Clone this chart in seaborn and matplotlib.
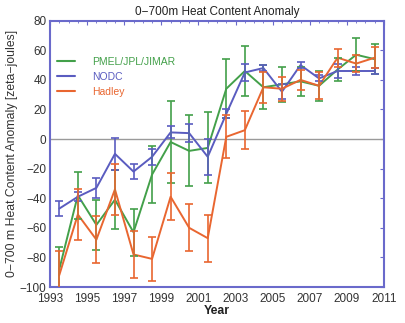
import matplotlib
matplotlib.use("Agg")
import matplotlib.pyplot as plt
import seaborn as sns
import pandas as pd
import numpy as np
from matplotlib.ticker import MultipleLocator
from matplotlib.lines import Line2D

years = [1993.5, 1994.5, 1995.5, 1996.5, 1997.5, 1998.5, 1999.5, 2000.5, 2001.5,
         2002.5, 2003.5, 2004.5, 2005.5, 2006.5, 2007.5, 2008.5, 2009.5, 2010.5]

pmel = [-88, -38, -58, -41, -63, -24, -2, -8, -6, 34, 46, 35, 37, 39, 36, 47, 57, 54]
pmel_err = [15, 16, 17, 20, 16, 19, 28, 24, 24, 20, 17, 15, 12, 10, 10, 8, 11, 10]

nodc = [-47, -39, -33, -10, -22, -12, 4.5, 4, -12, 17, 45, 48, 32, 50, 41, 46, 46, 46]
nodc_err = [5, 3, 7, 11, 5, 5.5, 4, 6, 12, 3, 6, 2, 5, 2, 2, 5, 3, 2]

hadley = [-92, -51, -68, -34, -78, -81, -39, -60, -67, 1.5, 6, 35, 34, 40, 36, 55, 51, 55]
hadley_err = [16, 17, 16, 17, 16, 15, 16, 16, 16, 14.5, 13, 10.5, 8, 7, 9, 6, 6, 7]

series_names = ["PMEL/JPL/JIMAR", "NODC", "Hadley"]
colors = ["#43a04a", "#5a5cc0", "#e96630"]

title = "0\u2212700m Heat Content Anomaly"
ylabel = "0\u2212700 m Heat Content Anomaly [zeta\u2212joules]"
xlabel = "Year"
xticks = [1993, 1995, 1997, 1999, 2001, 2003, 2005, 2007, 2009, 2011]
yticks = [-100, -80, -60, -40, -20, 0, 20, 40, 60, 80]

sns.set_theme(style="white")
plt.rcParams['font.family'] = ['Liberation Sans', 'DejaVu Sans']

df = pd.DataFrame({
    "Year": years * 3,
    "Anomaly": pmel + nodc + hadley,
    "Err": pmel_err + nodc_err + hadley_err,
    "Series": [series_names[0]] * len(years) + [series_names[1]] * len(years) + [series_names[2]] * len(years),
})

fig = plt.figure(figsize=(4.05, 3.23), dpi=100)
ax = fig.add_axes([50/405, 1 - 287/323, 334/405, (287 - 20.7)/323])

ax.axhline(0, color="#9a9a9a", lw=1.0, zorder=1)

palette = dict(zip(series_names, colors))
sns.lineplot(data=df, x="Year", y="Anomaly", hue="Series", palette=palette,
             hue_order=series_names, linewidth=1.4, ax=ax, legend=False, zorder=3)

for name, col in zip(series_names, colors):
    sub = df[df["Series"] == name]
    ax.errorbar(sub["Year"], sub["Anomaly"], yerr=sub["Err"], fmt="none",
                ecolor=col, elinewidth=1.2, capsize=2.8, capthick=1.2, zorder=3)

ax.set_xlim(1993, 2011)
ax.set_ylim(-100, 80)
ax.set_xticks(xticks)
ax.set_yticks(yticks)
ax.xaxis.set_minor_locator(MultipleLocator(0.5))
ax.tick_params(axis="both", which="both", direction="in", top=True, right=True,
               colors="#6a6acb", labelcolor="#333333", labelsize=8.5)
ax.tick_params(which="major", length=3, width=0.8)
ax.tick_params(axis="x", which="major", pad=4.5)
ax.tick_params(axis="y", which="major", pad=2.5)
ax.tick_params(which="minor", length=1.5, width=0.6)

for s in ax.spines.values():
    s.set_color("#6a6acb")
    s.set_linewidth(1.5)

ax.set_title(title, fontsize=8.5, color="#222222", pad=4)
ax.set_ylabel(ylabel, fontsize=8.8, color="#333333", labelpad=1)
ax.set_xlabel(xlabel, fontsize=8.8, fontweight="bold", color="#222222", labelpad=0)

handles = [Line2D([0], [0], color=c, lw=1.5) for c in colors]
leg = ax.legend(handles, series_names, loc="upper left", bbox_to_anchor=(0.02, 0.865),
                frameon=False, fontsize=7.5, handlelength=1.8, handletextpad=1.6,
                labelspacing=0.5, borderpad=0, borderaxespad=0, labelcolor="linecolor")

fig.savefig("out.png", dpi=100)
